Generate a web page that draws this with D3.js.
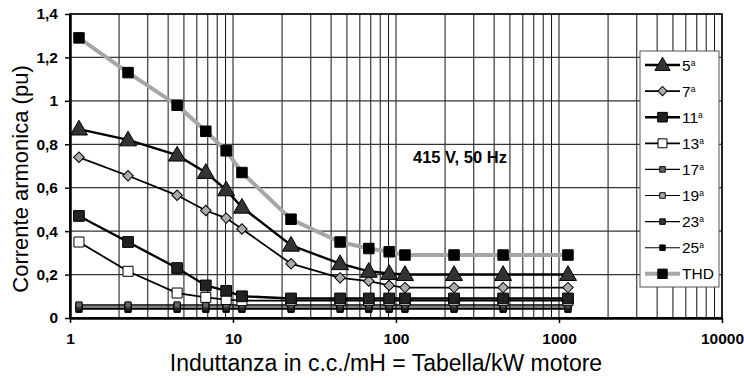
<!DOCTYPE html>
<html>
<head>
<meta charset="utf-8">
<script src="https://cdn.jsdelivr.net/npm/d3@7"></script>
<style>
  body { margin: 0; background: #fff; }
  svg { font-family: "Liberation Sans", Arial, sans-serif; }
</style>
</head>
<body>
<div id="chart"></div>
<script>
// x values (inductance, mH)
let xVals = [1.135, 2.27, 4.54, 6.81, 9.08, 11.35, 22.7, 45.4, 68.1, 90.8, 113.5, 227, 454, 1135];

// harmonic currents (pu)
let h5 = [0.87, 0.82, 0.75, 0.67, 0.59, 0.51, 0.335, 0.25, 0.215, 0.205, 0.2, 0.2, 0.2, 0.2];
let h7 = [0.74, 0.655, 0.565, 0.495, 0.46, 0.41, 0.25, 0.185, 0.17, 0.15, 0.14, 0.14, 0.14, 0.14];
let h11 = [0.47, 0.35, 0.23, 0.15, 0.125, 0.1, 0.09, 0.09, 0.09, 0.09, 0.09, 0.09, 0.09, 0.09];
let h13 = [0.35, 0.215, 0.115, 0.095, 0.085, 0.08, 0.08, 0.08, 0.08, 0.08, 0.08, 0.08, 0.08, 0.08];
let h17 = [0.06, 0.06, 0.06, 0.06, 0.06, 0.06, 0.06, 0.06, 0.06, 0.06, 0.06, 0.06, 0.06, 0.06];
let h19 = [0.055, 0.055, 0.055, 0.055, 0.055, 0.055, 0.055, 0.055, 0.055, 0.055, 0.055, 0.055, 0.055, 0.055];
let h23 = [0.045, 0.045, 0.045, 0.045, 0.045, 0.045, 0.045, 0.045, 0.045, 0.045, 0.045, 0.045, 0.045, 0.045];
let h25 = [0.04, 0.04, 0.04, 0.04, 0.04, 0.04, 0.04, 0.04, 0.04, 0.04, 0.04, 0.04, 0.04, 0.04];
let thd = [1.29, 1.13, 0.98, 0.86, 0.77, 0.67, 0.455, 0.35, 0.32, 0.305, 0.29, 0.29, 0.29, 0.29];

let xTicks = [1, 10, 100, 1000, 10000];
let yTicks = [0, 0.2, 0.4, 0.6, 0.8, 1, 1.2, 1.4];
let seriesNames = ["5ª", "7ª", "11ª", "13ª", "17ª", "19ª", "23ª", "25ª", "THD"];

let width = 744;
let height = 380;
let plotL = 70, plotR = 722, plotT = 14, plotB = 318;

let svg = d3.select("#chart").append("svg")
  .attr("width", width)
  .attr("height", height);

let xScale = d3.scaleLog().domain([1, 10000]).range([plotL, plotR]);
let yScale = d3.scaleLinear().domain([0, 1.4]).range([plotB, plotT]);

// vertical log gridlines
let minor = [];
for (let d = 1; d < 10000; d *= 10) {
  for (let k = 1; k <= 9; k++) minor.push(d * k);
}
minor.push(10000);

svg.append("g").selectAll("line")
  .data(minor)
  .enter().append("line")
  .attr("x1", d => xScale(d)).attr("x2", d => xScale(d))
  .attr("y1", plotT).attr("y2", plotB)
  .attr("stroke", "#111")
  .attr("stroke-width", 1);

// horizontal gridlines
svg.append("g").selectAll("line")
  .data(yTicks)
  .enter().append("line")
  .attr("x1", plotL).attr("x2", plotR)
  .attr("y1", d => yScale(d)).attr("y2", d => yScale(d))
  .attr("stroke", "#333")
  .attr("stroke-width", 1.2);

// frame
svg.append("rect")
  .attr("x", plotL).attr("y", plotT)
  .attr("width", plotR - plotL).attr("height", plotB - plotT)
  .attr("fill", "none").attr("stroke", "#000").attr("stroke-width", 1.5);

// axes
let fmt = d => String(d).replace(".", ",");
let yAxis = d3.axisLeft(yScale).tickValues(yTicks).tickFormat(fmt).tickSize(5).tickSizeOuter(0);
let xAxis = d3.axisBottom(xScale).tickValues(xTicks).tickFormat(d3.format("d")).tickSize(5).tickSizeOuter(0);

let gy = svg.append("g").attr("transform", "translate(" + plotL + ",0)").call(yAxis);
let gx = svg.append("g").attr("transform", "translate(0," + plotB + ")").call(xAxis);
[gy, gx].forEach(g => {
  g.select(".domain").attr("stroke", "#000").attr("stroke-width", 2.5);
  g.selectAll(".tick line").attr("stroke", "#000").attr("stroke-width", 1.5);
  g.selectAll("text")
    .attr("font-family", "Liberation Sans, Arial, sans-serif")
    .attr("font-size", 15.5).attr("font-weight", "bold").attr("fill", "#000");
});
gy.selectAll("text").attr("x", -12);
gx.selectAll("text").attr("y", 15);

// axis titles
svg.append("text")
  .attr("transform", "translate(28,179)rotate(-90)")
  .attr("text-anchor", "middle")
  .attr("font-size", 22)
  .text("Corrente armonica (pu)");

svg.append("text")
  .attr("x", 386).attr("y", 371)
  .attr("text-anchor", "middle")
  .attr("font-size", 23)
  .text("Induttanza in c.c./mH = Tabella/kW motore");

svg.append("text")
  .attr("x", 413).attr("y", 163)
  .attr("font-size", 16.5).attr("font-weight", "bold")
  .text("415 V, 50 Hz");

// series styles
let series = [
  { name: seriesNames[0], vals: h5, stroke: "#000", sw: 2.4, shape: "tri", size: 125, fill: "#333" },
  { name: seriesNames[1], vals: h7, stroke: "#000", sw: 1.8, shape: "dia", size: 55, fill: "#aaa" },
  { name: seriesNames[2], vals: h11, stroke: "#000", sw: 2.4, shape: "sq", size: 115, fill: "#222" },
  { name: seriesNames[3], vals: h13, stroke: "#000", sw: 1.8, shape: "sq", size: 100, fill: "#fff" },
  { name: seriesNames[4], vals: h17, stroke: "#000", sw: 1.3, shape: "sq", size: 38, fill: "#666" },
  { name: seriesNames[5], vals: h19, stroke: "#000", sw: 1.1, shape: "sq", size: 38, fill: "#aaa" },
  { name: seriesNames[6], vals: h23, stroke: "#000", sw: 1.3, shape: "sq", size: 38, fill: "#333" },
  { name: seriesNames[7], vals: h25, stroke: "#000", sw: 1.1, shape: "sq", size: 38, fill: "#000" },
  { name: seriesNames[8], vals: thd, stroke: "#a6a6a6", sw: 4, shape: "sq", size: 110, fill: "#000" }
];

function symPath(s, k) {
  let type = s.shape === "tri" ? d3.symbolTriangle : d3.symbolSquare;
  return d3.symbol().type(type).size(s.size * k)();
}
function symRot(s) {
  if (s.shape === "dia") return "rotate(45)";
  if (s.shape === "tri") return "translate(0,1)";
  return "";
}

let line = d3.line()
  .x(d => xScale(d[0]))
  .y(d => yScale(d[1]));

// draw from bottom series up, THD last
let drawOrder = [7, 6, 5, 4, 3, 2, 1, 0, 8];
drawOrder.forEach(i => {
  let s = series[i];
  let pts = xVals.map((x, j) => [x, s.vals[j]]);
  svg.append("path")
    .datum(pts)
    .attr("d", line)
    .attr("fill", "none")
    .attr("stroke", s.stroke)
    .attr("stroke-width", s.sw);
  svg.append("g").selectAll("path")
    .data(pts)
    .enter().append("path")
    .attr("transform", d => "translate(" + xScale(d[0]) + "," + yScale(d[1]) + ")" + symRot(s))
    .attr("d", symPath(s, 1))
    .attr("fill", s.fill)
    .attr("stroke", "#000")
    .attr("stroke-width", 1);
});

// legend
let legend = svg.append("g");
legend.append("rect")
  .attr("x", 640).attr("y", 51)
  .attr("width", 79).attr("height", 236)
  .attr("fill", "#fff").attr("stroke", "#555").attr("stroke-width", 1);

series.forEach((s, i) => {
  let y = 65 + i * 26.1;
  let g = legend.append("g").attr("transform", "translate(0," + y + ")");
  g.append("line")
    .attr("x1", 645).attr("x2", 680)
    .attr("stroke", s.stroke).attr("stroke-width", s.sw);
  g.append("path")
    .attr("transform", "translate(662.5,0)" + symRot(s))
    .attr("d", symPath(s, 0.8))
    .attr("fill", s.fill).attr("stroke", "#000").attr("stroke-width", 1);
  let t = g.append("text")
    .attr("x", 682).attr("y", 5.5)
    .attr("font-size", 15.5);
  if (s.name === "THD") {
    t.text("THD");
  } else {
    t.append("tspan").text(s.name.slice(0, -1));
    t.append("tspan").attr("font-size", 8.5).attr("dy", -5).text("a");
  }
});
</script>
</body>
</html>
